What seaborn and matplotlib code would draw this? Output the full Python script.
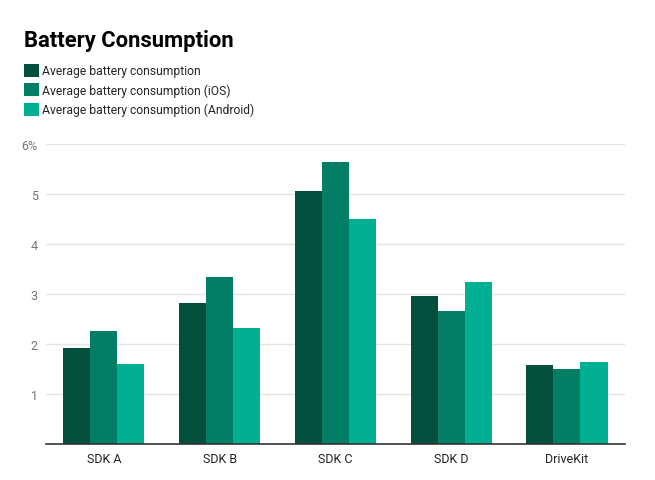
import matplotlib
matplotlib.use("Agg")
import matplotlib.pyplot as plt
import seaborn as sns
import pandas as pd

# values (percent)
sdks = ["SDK A", "SDK B", "SDK C", "SDK D", "DriveKit"]
avg_all = [1.92, 2.82, 5.06, 2.96, 1.58]
avg_ios = [2.26, 3.34, 5.64, 2.66, 1.50]
avg_android = [1.60, 2.32, 4.50, 3.24, 1.64]

series = ["Average battery consumption",
          "Average battery consumption (iOS)",
          "Average battery consumption (Android)"]
colors = ["#024f3b", "#017e65", "#01b093"]

y_ticks = [1, 2, 3, 4, 5, 6]
y_labels = ["1", "2", "3", "4", "5", "6%"]

df = pd.DataFrame({
    "sdk": sdks * 3,
    "value": avg_all + avg_ios + avg_android,
    "series": [s for s in series for _ in sdks],
})

sns.set_theme(style="white")
plt.rcParams["font.family"] = ["Roboto", "DejaVu Sans"]

fig = plt.figure(figsize=(6.55, 4.81), dpi=100)
ax = fig.add_axes([0.0702, 0.0748, 0.8838, 0.6237])

sns.barplot(data=df, x="sdk", y="value", hue="series", order=sdks,
            hue_order=series, palette=colors, width=0.7, saturation=1,
            errorbar=None, ax=ax, linewidth=0, legend=True)

ax.set_xlim(-0.5, len(sdks) - 0.5)
ax.set_ylim(0, 6)
ax.set_yticks(y_ticks)
ax.set_yticklabels(y_labels, color="#757575", fontsize=9)
ax.tick_params(axis="x", labelsize=9, colors="#222222", length=0, pad=6)
ax.tick_params(axis="y", length=0, pad=6)
ax.set_xlabel("")
ax.set_ylabel("")
ax.grid(axis="y", color="#e4e4e4", linewidth=1)
ax.set_axisbelow(True)
for s in ["top", "right", "left"]:
    ax.spines[s].set_visible(False)
ax.spines["bottom"].set_color("#333333")
ax.spines["bottom"].set_linewidth(1.2)

handles, labels = ax.get_legend_handles_labels()
ax.get_legend().remove()
fig.legend(handles, labels, loc="upper left", bbox_to_anchor=(0.0366, 0.865),
           frameon=False, fontsize=8.7, handlelength=1.25, handleheight=1.25,
           handletextpad=0.25, labelspacing=0.5, borderaxespad=0, borderpad=0)

fig.text(0.037, 0.902, "Battery Consumption", fontsize=15.8, fontweight="bold",
         color="#000000", va="baseline", ha="left")

fig.savefig("out.png", dpi=100)
